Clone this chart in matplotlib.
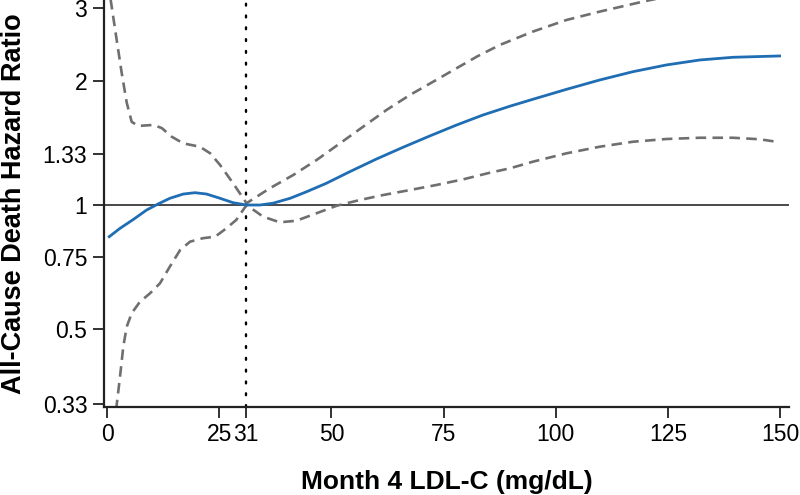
import numpy as np
import matplotlib
matplotlib.use('Agg')
import matplotlib.pyplot as plt
from matplotlib.ticker import FixedLocator, NullLocator

plt.rcParams['font.family'] = ['Liberation Sans', 'DejaVu Sans']

# spline estimate (hazard ratio vs month 4 LDL-C)
hr_x = [0.5, 2.9, 5.9, 8.8, 11.4, 14.0, 17.0, 19.6, 22.2, 25.2, 28.1, 31.1, 34.1, 37.0,
        40.8, 44.5, 48.9, 54.1, 60.1, 66.0, 71.9, 77.9, 83.8, 89.8, 94.9, 102.4, 109.8,
        117.2, 124.7, 132.1, 139.5, 149.9]
hr_y = [0.838, 0.878, 0.923, 0.972, 1.006, 1.038, 1.063, 1.071, 1.063, 1.038, 1.013, 1.0, 1.0, 1.01,
        1.038, 1.077, 1.129, 1.204, 1.293, 1.38, 1.469, 1.562, 1.652, 1.735, 1.803, 1.906, 2.008,
        2.103, 2.184, 2.245, 2.279, 2.296]

upper_x = [0, 1.05, 2.16, 3.27, 4.39, 5.5, 6.97, 10.3, 12.2, 14.4, 17.0, 20.7, 23.0, 25.2, 28.1, 31.1,
           36.3, 41.5, 46.7, 51.9, 57.1, 62.3, 67.5, 72.7, 77.9, 82.5, 87.5, 94.9, 102.4, 109.8,
           119.4, 125]
upper_y = [3.6, 3.02, 2.51, 2.09, 1.77, 1.59, 1.554, 1.563, 1.536, 1.464, 1.41, 1.384, 1.334, 1.25, 1.129, 1.01,
           1.098, 1.182, 1.285, 1.41, 1.548, 1.699, 1.847, 1.989, 2.144, 2.29, 2.44, 2.63, 2.806, 2.94,
           3.108, 3.2]

lower_x = [1.5, 2.16, 2.9, 3.63, 4.39, 5.5, 7.35, 9.58, 11.8, 14.0, 16.3, 18.5, 21.4, 24.1, 26.6, 28.8, 31.1,
           34.8, 38.5, 42.2, 46.7, 51.2, 56.3, 61.5, 67.5, 73.4, 79.4, 85.3, 89.8, 94.9, 102.4,
           109.8, 117.2, 124.7, 132.1, 139.5, 145.4, 149.2]
lower_y = [0.29, 0.328, 0.384, 0.454, 0.507, 0.547, 0.583, 0.611, 0.646, 0.709, 0.778, 0.815, 0.831, 0.838,
           0.878, 0.92, 1.0,
           0.937, 0.908, 0.916, 0.955, 0.996, 1.028, 1.057, 1.087, 1.118, 1.154, 1.197, 1.227, 1.273, 1.334,
           1.384, 1.423, 1.445, 1.455, 1.455, 1.443, 1.423]

x_ticks = [0, 25, 31, 50, 75, 100, 125, 150]
y_ticks = [0.33, 0.5, 0.75, 1, 1.33, 2, 3]
y_labels = ['0.33', '0.5', '0.75', '1', '1.33', '2', '3']
ref_ldl = 31

fig = plt.figure(figsize=(8, 4.95), dpi=100)
ax = fig.add_axes([104 / 800, 1 - 406.7 / 495, (789 - 104) / 800, 406.7 / 495])

ax.set_yscale('log')
ax.set_xlim(-0.67, 152)
ax.set_ylim(0.3247, 3.137)

ax.axhline(1, color='#3a3a3a', lw=1.3, zorder=1)
ax.axvline(ref_ldl, color='black', lw=1.7, linestyle=(0, (0.8, 4.2)), dash_capstyle='round', zorder=1)

dash = (0, (4, 2.4))
ax.plot(upper_x, upper_y, color='#6f6f6f', lw=1.9, linestyle=dash, zorder=2)
ax.plot(lower_x, lower_y, color='#6f6f6f', lw=1.9, linestyle=dash, zorder=2)
ax.plot(hr_x, hr_y, color='#1f6db3', lw=2.0, solid_joinstyle='round', zorder=3)

ax.yaxis.set_major_locator(FixedLocator(y_ticks))
ax.yaxis.set_minor_locator(NullLocator())
ax.set_yticklabels(y_labels)
ax.set_xticks(x_ticks)
ax.set_xticklabels([str(t) for t in x_ticks])

ax.spines['top'].set_visible(False)
ax.spines['right'].set_visible(False)
for s in ['left', 'bottom']:
    ax.spines[s].set_linewidth(1.6)
    ax.spines[s].set_color('#222222')
ax.tick_params(axis='both', length=8, width=1.3, color='#222222', labelsize=16.5, pad=4)

ax.set_xlabel('Month 4 LDL-C (mg/dL)', fontsize=19, fontweight='bold', labelpad=17)
ax.set_ylabel('All-Cause Death Hazard Ratio', fontsize=19.5, fontweight='bold', labelpad=11)

plt.savefig('out.png', dpi=100)
